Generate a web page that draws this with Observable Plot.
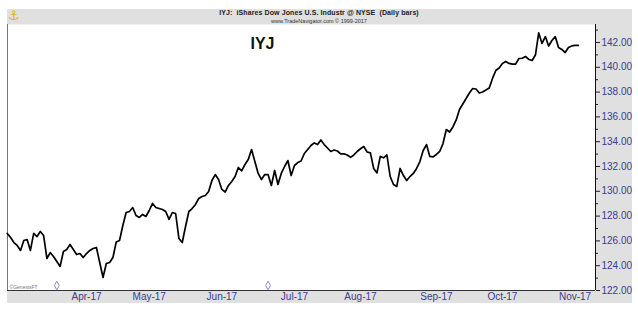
<!DOCTYPE html>
<html>
<head>
<meta charset="utf-8">
<script src="https://cdn.jsdelivr.net/npm/d3@7"></script>
<script src="https://cdn.jsdelivr.net/npm/@observablehq/plot@0.6"></script>
<style>
  html, body { margin: 0; padding: 0; background: #fff; }
  #wrap { position: relative; width: 638px; height: 311px; background: #fff; overflow: hidden; font-family: "Liberation Sans", Arial, sans-serif; }
  #bg { position: absolute; left: 7px; top: 9px; width: 625px; height: 294px; background: #e0e0e0; }
  #chart { position: absolute; left: 0; top: 0; }
  #hdr1 { position: absolute; left: 0; width: 638px; top: 9px; text-align: center; font-size: 7px; font-weight: bold; color: #222; letter-spacing: 0.1px; }
  #hdr2 { position: absolute; left: 0; width: 638px; top: 18px; text-align: center; font-size: 5.5px; color: #333; }
  #logo { position: absolute; left: 8px; top: 8px; font-size: 13px; font-family: "DejaVu Sans", sans-serif; font-weight: bold; color: #e2b400; line-height: 16px; }
</style>
</head>
<body>
<div id="wrap">
  <div id="bg"></div>
  <div id="chart"></div>
  <div id="logo">&#x2693;&#xFE0E;</div>
  <div id="hdr1">IYJ:&nbsp; iShares Dow Jones U.S. Industr @ NYSE &nbsp;(Daily bars)</div>
  <div id="hdr2">www.TradeNavigator.com © 1999-2017</div>
</div>
<script>
// Daily closes, trading-day index 0 = 28 Feb 2017 ... 173 = 2 Nov 2017
const closes = [
  126.60,126.27,125.87,125.63,125.23,126.03,126.11,125.23,126.60,126.35,
  126.76,126.44,124.58,125.06,124.74,124.34,123.94,125.15,125.31,125.71,
  125.31,124.90,124.98,124.66,124.98,125.23,125.39,125.47,124.26,123.05,
  124.18,124.26,124.66,125.91,126.03,127.24,128.29,128.37,128.69,128.05,
  127.89,128.13,127.97,128.45,129.02,128.69,128.61,128.53,128.37,127.73,
  128.29,128.21,126.19,125.87,127.16,128.37,128.61,128.94,129.42,129.58,
  129.66,129.98,130.87,131.35,130.95,130.15,129.94,130.47,130.79,131.19,
  131.92,131.64,132.16,132.56,133.37,132.40,131.44,130.95,131.35,131.35,
  130.47,131.68,130.55,131.44,132.00,132.48,131.27,132.08,132.32,132.44,
  133.05,133.37,133.69,133.90,133.77,134.14,133.77,133.49,133.21,133.33,
  133.25,133.02,133.02,132.93,132.73,132.93,133.21,133.43,133.61,133.17,
  133.10,131.84,131.48,132.81,132.70,132.93,131.19,130.55,130.39,131.84,
  131.27,130.87,131.19,131.44,131.84,132.40,133.29,133.77,132.81,132.77,
  132.97,133.21,133.85,134.98,134.78,135.19,135.75,136.60,137.04,137.48,
  137.93,138.29,138.25,137.93,138.01,138.17,138.33,139.10,139.74,139.94,
  140.31,140.47,140.31,140.25,140.25,140.71,140.73,140.87,140.63,140.55,
  140.99,142.77,141.92,142.48,141.72,142.16,142.48,141.60,141.44,141.19,
  141.60,141.72,141.76,141.76
];
const monthLabels = ["Apr-17","May-17","Jun-17","Jul-17","Aug-17","Sep-17","Oct-17","Nov-17"];
const monthStartIdx = [24, 43, 65, 87, 107, 130, 150, 172];
const yMajor = [122,124,126,128,130,132,134,136,138,140,142];
const yMinor = [123,125,127,129,131,133,135,137,139,141,143];
const dividendIdx = [15, 79];
const tickColor = "#3b3b8f";

const data = closes.map((v, i) => ({i, v}));
const xMin = 0.06, xMax = 178.2;
const labelOf = new Map(monthStartIdx.map((d, k) => [d, monthLabels[k]]));

const chart = Plot.plot({
  width: 638,
  height: 311,
  marginLeft: 7,
  marginRight: 43,
  marginTop: 24,
  marginBottom: 21,
  style: {background: "transparent", fontFamily: "'Liberation Sans', Arial, sans-serif"},
  x: {domain: [xMin, xMax]},
  y: {domain: [122, 143.45]},
  marks: [
    Plot.frame({fill: "white", stroke: "none"}),
    Plot.ruleX([xMin], {stroke: "#777", strokeWidth: 1}),
    Plot.ruleX([xMax], {stroke: "#111", strokeWidth: 1}),
    Plot.ruleY([122], {stroke: "#333", strokeWidth: 1}),
    Plot.axisY(yMajor, {anchor: "right", tickSize: 4, tickPadding: 2, tickFormat: d => d.toFixed(2), fontSize: 10, color: tickColor, stroke: "#222", label: null}),
    Plot.axisY(yMinor.filter(d => d < 143.45), {anchor: "right", tickSize: 2, tickFormat: () => "", stroke: "#222", label: null}),
    Plot.axisX(monthStartIdx, {anchor: "bottom", tickSize: 0, tickPadding: 2, tickFormat: d => labelOf.get(d), fontSize: 10, color: tickColor, label: null}),
    Plot.text(["©GenesisFT"], {frameAnchor: "bottom-left", dx: 2, dy: -2, fontSize: 5, fill: "#777", textAnchor: "start"}),
    Plot.dot(dividendIdx, {x: d => d, frameAnchor: "bottom", dy: -5, symbol: "diamond", r: 2.6, stroke: "#8a8ac8", strokeWidth: 1, fill: "white"}),
    Plot.text(["IYJ"], {frameAnchor: "top-left", dx: 243, dy: 13, fontSize: 16, fontWeight: "bold", fill: "#111", textAnchor: "start", lineAnchor: "top"}),
    Plot.line(data, {x: "i", y: "v", stroke: "#000", strokeWidth: 1.7, strokeLinejoin: "round"})
  ]
});
document.getElementById("chart").appendChild(chart);
</script>
</body>
</html>
